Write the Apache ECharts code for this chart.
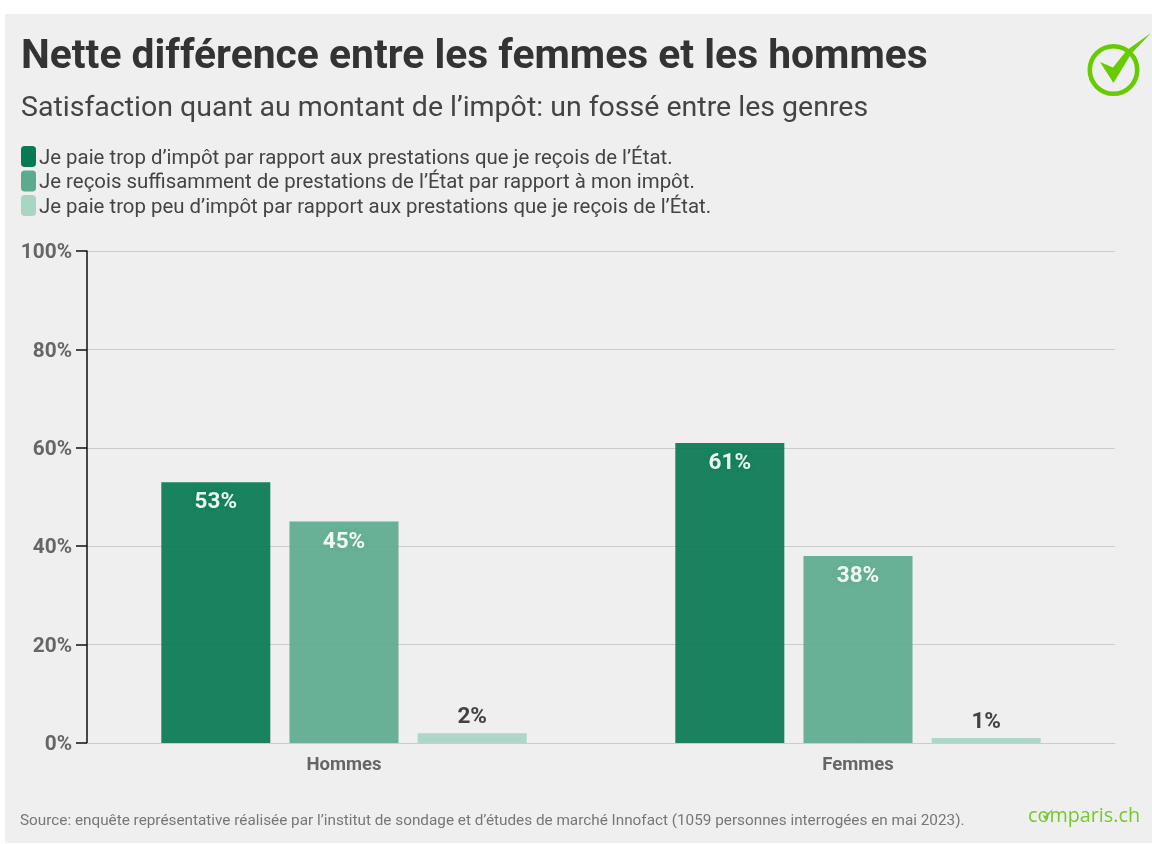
<!DOCTYPE html>
<html>
<head>
<meta charset="utf-8">
<title>Nette différence entre les femmes et les hommes</title>
<script src="https://cdn.jsdelivr.net/npm/echarts@6/dist/echarts.min.js"></script>
<style>
  html, body { margin: 0; padding: 0; background: #fff; }
  #chart { width: 1152px; height: 844px; }
</style>
</head>
<body>
<div id="chart"></div>
<script>
const categories = ['Hommes', 'Femmes']
const seriesNames = [
  'Je paie trop d’impôt par rapport aux prestations que je reçois de l’État.',
  'Je reçois suffisamment de prestations de l’État par rapport à mon impôt.',
  'Je paie trop peu d’impôt par rapport aux prestations que je reçois de l’État.'
]
const tropImpot = [53, 61]
const suffisamment = [45, 38]
const tropPeu = [2, 1]
const colors = ['#067a52', '#5cab8e', '#a9d5c3']

const fontFamily = 'Roboto'
const myChart = echarts.init(document.getElementById('chart'))

function makeSeries(name, values, color, inside) {
  return {
    name: name,
    type: 'bar',
    data: values,
    barWidth: 109,
    barGap: '17.6%',
    itemStyle: { color: color, opacity: 0.92 },
    label: {
      show: true,
      position: inside ? 'insideTop' : 'top',
      distance: inside ? 9 : 4,
      formatter: '{c}%',
      fontFamily: fontFamily,
      fontSize: 22.5,
      fontWeight: 'bold',
      color: inside ? '#fff' : '#333',
      textShadowColor: inside ? color : 'transparent',
      textShadowBlur: inside ? 4 : 0
    }
  }
}

const option = {
  backgroundColor: '#fff',
  animation: false,
  textStyle: { fontFamily: fontFamily },
  title: [
    {
      text: 'Nette différence entre les femmes et les hommes',
      left: 21, top: 37, padding: 0,
      textStyle: { fontFamily: fontFamily, fontSize: 40.8, fontWeight: 'bold', color: '#333' }
    },
    {
      text: 'Satisfaction quant au montant de l’impôt: un fossé entre les genres',
      left: 21, top: 94, padding: 0,
      textStyle: { fontFamily: fontFamily, fontSize: 28.5, fontWeight: 'normal', color: '#444' }
    },
    {
      text: 'Source: enquête représentative réalisée par l’institut de sondage et d’études de marché Innofact (1059 personnes interrogées en mai 2023).',
      left: 20, top: 814, padding: 0,
      textStyle: { fontFamily: fontFamily, fontSize: 15.3, fontWeight: 'normal', color: '#777' }
    }
  ],
  legend: {
    orient: 'vertical',
    left: 21, top: 146, padding: 0,
    itemWidth: 15, itemHeight: 21, itemGap: 2,
    icon: 'roundRect',
    selectedMode: false,
    formatter: '{a|{name}}',
    textStyle: {
      fontFamily: fontFamily,
      padding: [0, 0, 0, -2],
      rich: { a: { fontFamily: fontFamily, fontSize: 20.4, color: '#444', padding: [4, 0, 0, 0] } }
    },
    data: seriesNames.map(function (n) { return { name: n, itemStyle: { opacity: 1 } } })
  },
  grid: { left: 87, right: 37, top: 251, bottom: 101 },
  xAxis: {
    type: 'category',
    data: categories,
    axisTick: { show: false },
    axisLine: { lineStyle: { color: '#ccc', width: 1 } },
    axisLabel: { margin: 13, fontFamily: fontFamily, fontSize: 18.5, fontWeight: 'bold', color: '#666' }
  },
  yAxis: {
    type: 'value',
    min: 0, max: 100, interval: 20,
    axisLine: { show: true, lineStyle: { color: '#111', width: 1.5 } },
    axisTick: { show: true, length: 11, lineStyle: { color: '#111', width: 1.5 } },
    axisLabel: {
      margin: 15,
      formatter: '{a|{value}%}',
      rich: { a: { fontFamily: fontFamily, fontSize: 20.8, fontWeight: 'bold', color: '#666', padding: [4, 0, 0, 0] } }
    },
    splitLine: { lineStyle: { color: '#ccc', width: 1 } }
  },
  graphic: [
    // fond gris du panneau
    { type: 'rect', z: -10, silent: true, shape: { x: 5, y: 14, width: 1147, height: 829 }, style: { fill: '#efefef' } },
    // logo
    { type: 'circle', z: 10, shape: { cx: 1113.5, cy: 70, r: 23.7 }, style: { fill: 'none', stroke: '#66cc00', lineWidth: 4.6 } },
    { type: 'polygon', z: 11, shape: { points: [[1100, 62], [1113, 67.5], [1127, 50], [1151, 33], [1131, 54], [1113.5, 83]] }, style: { fill: '#66cc00' } },
    // comparis.ch
    { type: 'text', z: 10, style: { x: 1028, y: 806, text: 'comparis.ch', fontFamily: 'Open Sans', fontSize: 19.8, fill: '#74c92c' } },
    { type: 'polygon', z: 11, shape: { points: [[1042.5, 815], [1045.5, 816], [1049, 812], [1053, 809], [1050, 813], [1045.5, 820]] }, style: { fill: '#74c92c' } }
  ],
  series: [
    makeSeries(seriesNames[0], tropImpot, colors[0], true),
    makeSeries(seriesNames[1], suffisamment, colors[1], true),
    makeSeries(seriesNames[2], tropPeu, colors[2], false)
  ]
}

myChart.setOption(option)

window.addEventListener('resize', () => {
  myChart.resize()
})
</script>
</body>
</html>
